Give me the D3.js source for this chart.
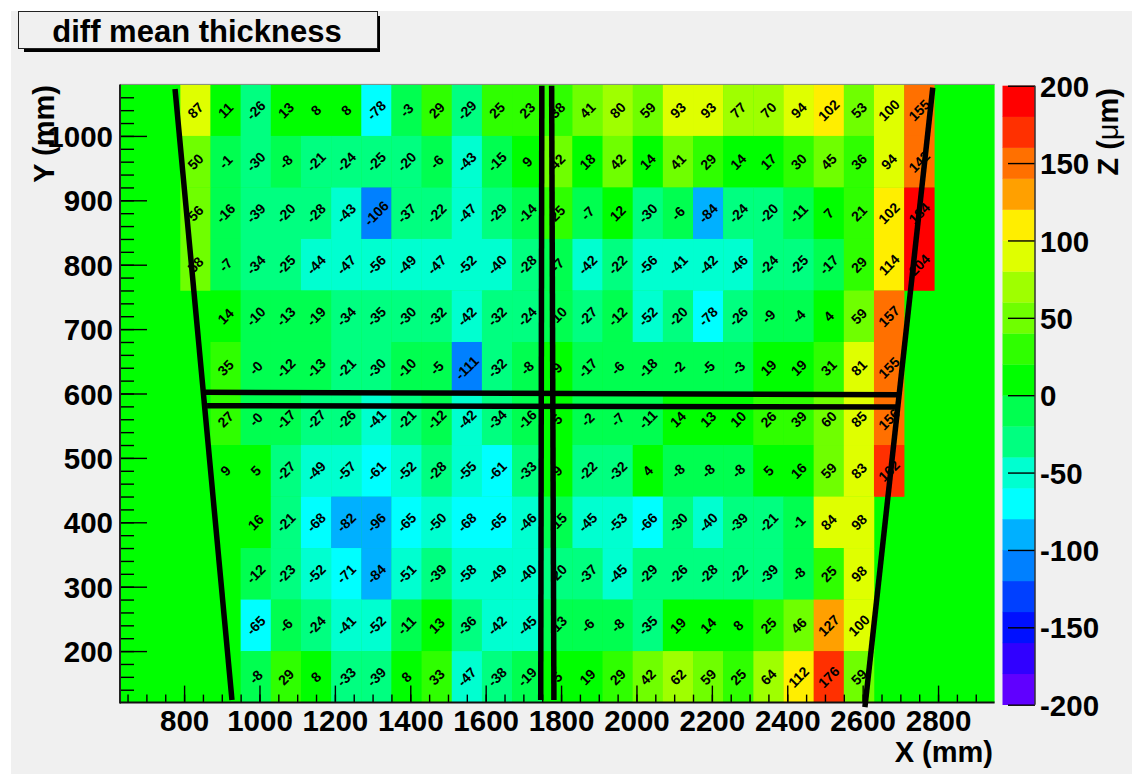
<!DOCTYPE html>
<html>
<head>
<meta charset="utf-8">
<script src="https://cdn.jsdelivr.net/npm/d3@7"></script>
<style>
  html, body { margin: 0; padding: 0; background: #fff; }
  svg { display: block; }
  text { font-family: "Liberation Sans", Arial, sans-serif; font-weight: bold; fill: #000; }
  .axis .domain { display: none; }
  .axis line { stroke: #000; }
</style>
</head>
<body>
<div id="chart"></div>
<script>
// histogram binning, mm
var binX0 = 630, binY0 = 120, binSize = 80, nBinsX = 29;

// cell values from the top row (y 1000-1080) down, starting in x bin 2; null = empty bin
var row1 = [87, 11, -26, 13, 8, 8, -78, -3, 29, -29, 25, 23, 38, 41, 79.6, 59, 93, 93, 77, 70, 94, 102, 53, 99.8, 155];
var row2 = [50, -1, -30, -8, -21, -24, -25, -20.3, -6, -43, -15, 9, 42, 18, 42, 14, 41, 29, 14, 17, 30, 45, 36, 94, 142];
var row3 = [56, -16, -39, -20.3, -28, -43, -106, -37, -22, -47, -29, -14, 25, -7, 12, -30, -6, -84, -24, -20.3, -11, 7, 21, 102, 184];
var row4 = [58, -7, -34, -25, -44, -47, -56, -49, -47, -52, -40.3, -28, -7, -42, -22, -56, -41, -42, -46, -24, -25, -17, 29, 114, 204];
var row5 = [null, 14, -10, -13, -19, -34, -35, -30, -32, -42, -32, -24, -10, -27, -12, -52, -20.3, -78, -26, -9, -4, 4, 59, 157, null];
var row6 = [null, 35, -0.4, -12, -13, -21, -30, -10, -5, -111, -32, -8, 9, -17, -6, -18, -2, -5, -3, 19, 19, 31, 81, 155, null];
var row7 = [null, 27, -0.4, -17, -27, -26, -41, -21, -12, -42, -34, -16, 5, -2, -7, -11, 14, 13, 10, 26, 39, 59.8, 85, 156, null];
var row8 = [null, 9, 5, -27, -49, -57, -61, -52, -28, -55, -61, -33, 9, -22, -32, 4, -8, -8, -8, 5, 16, 59, 83, 162, null];
var row9 = [null, null, 16, -21, -68, -82, -96, -65, -50, -68, -65, -46, -15, -45, -53, -66, -30, -40.3, -39, -21, -1, 84, 98, null, null];
var row10 = [null, null, -12, -23, -52, -71, -84, -51, -39, -58, -49, -40.3, -20.3, -37, -45, -29, -26, -28, -22, -39, -8, 25, 98, null, null];
var row11 = [null, null, -65, -6, -24, -41, -52, -11, 13, -36, -42, -45, -13, -6, -8, -35, 19, 14, 8, 25, 46, 127, 99.8, null, null];
var row12 = [null, null, -8, 29, 8, -33, -39, 8, 33, -47, -38, -19, 5, 19, 29, 42, 62, 59, 25, 64, 112, 176, 59, null, null];
var rows = [row1, row2, row3, row4, row5, row6, row7, row8, row9, row10, row11, row12];
var firstBinX = 2;

// contour palette, lowest band first
var palette = ["#6000ff", "#3000ff", "#0010ff", "#0040ff", "#0080ff", "#00b0ff", "#00ffff", "#00ffd0", "#00ff80", "#00ff50",
  "#00ff00", "#2fff00", "#6fff00", "#9fff00", "#dfff00", "#ffee00", "#ffa000", "#ff7000", "#ff3000", "#ff0000"];
var zLevels = d3.range(-180, 200, 20);

// axis ticks
var xMajor = [800, 1000, 1200, 1400, 1600, 1800, 2000, 2200, 2400, 2600, 2800];
var xMinor = d3.range(650, 2950, 50);
var yMajor = [200, 300, 400, 500, 600, 700, 800, 900, 1000];
var yMinor = d3.range(140, 1080, 20);
var zTicks = [-200, -150, -100, -50, 0, 50, 100, 150, 200];

// the black outline drawn over the map, mm
var overlay = [
  [[776, 1073], [927, 124]],
  [[2786, 1075], [2606, 113]],
  [[1749, 1078], [1746, 124]],
  [[1775, 1078], [1781, 124]],
  [[856, 602], [2694, 598]],
  [[861, 581], [2694, 579]]
];

var svgWidth = 1132, svgHeight = 774;
var tickFont = 29.5;

var svg = d3.select("#chart").append("svg")
  .attr("width", svgWidth)
  .attr("height", svgHeight);

// grey pad
svg.append("rect")
  .attr("x", 11).attr("y", 11)
  .attr("width", svgWidth - 11).attr("height", svgHeight - 11)
  .attr("fill", "#f0f0f0");

var x = d3.scaleLinear().domain([binX0, binX0 + nBinsX * binSize]).range([120, 994.6]);
var y = d3.scaleLinear().domain([binY0, binY0 + rows.length * binSize]).range([702.6, 84.4]);
var z = d3.scaleLinear().domain([-200, 200]).range([704.7, 85.7]);
var color = d3.scaleThreshold().domain(zLevels).range(palette);

// frame background is the colour of the empty bins
svg.append("rect")
  .attr("x", x.range()[0]).attr("y", y.range()[1])
  .attr("width", x.range()[1] - x.range()[0])
  .attr("height", y.range()[0] - y.range()[1])
  .attr("fill", color(0));

// flatten rows to cells
var cells = [];
rows.forEach(function(row, r) {
  row.forEach(function(v, i) {
    if (v !== null) {
      cells.push({
        x0: binX0 + (firstBinX + i) * binSize,
        y0: binY0 + (rows.length - 1 - r) * binSize,
        value: v
      });
    }
  });
});

svg.append("g").selectAll("rect")
  .data(cells)
  .enter()
  .append("rect")
  .attr("x", d => x(d.x0))
  .attr("y", d => y(d.y0 + binSize))
  .attr("width", d => x(d.x0 + binSize) - x(d.x0) + 0.3)
  .attr("height", d => y(d.y0) - y(d.y0 + binSize) + 0.3)
  .attr("fill", d => color(d.value));

// rounded labels, negative values keep their sign even at -0
svg.append("g").selectAll("text")
  .data(cells)
  .enter()
  .append("text")
  .attr("transform", d => `translate(${x(d.x0 + binSize / 2)}, ${y(d.y0 + binSize / 2)}) rotate(-45)`)
  .attr("text-anchor", "middle")
  .attr("dy", "0.36em")
  .attr("font-size", 14)
  .text(d => (d.value < 0 ? "-" : "") + Math.abs(Math.round(d.value)));

// axes, ticks point into the frame
var bottom = y.range()[0], left = x.range()[0];

svg.append("g").attr("class", "axis")
  .attr("transform", `translate(0, ${bottom})`)
  .call(d3.axisBottom(x).tickValues(xMinor).tickSize(-8).tickFormat(""));

var xAxis = svg.append("g").attr("class", "axis")
  .attr("transform", `translate(0, ${bottom})`)
  .call(d3.axisBottom(x).tickValues(xMajor).tickSize(-17).tickPadding(7).tickFormat(String));
xAxis.selectAll("text").attr("font-size", tickFont);

svg.append("g").attr("class", "axis")
  .attr("transform", `translate(${left}, 0)`)
  .call(d3.axisLeft(y).tickValues(yMinor).tickSize(-14).tickFormat(""));

var yAxis = svg.append("g").attr("class", "axis")
  .attr("transform", `translate(${left}, 0)`)
  .call(d3.axisLeft(y).tickValues(yMajor).tickSize(-27).tickPadding(7).tickFormat(String));
yAxis.selectAll("text").attr("font-size", tickFont).attr("dy", "0.36em");

svg.selectAll(".axis line").attr("stroke-width", 1.4);

// frame lines
svg.append("line").attr("x1", left).attr("x2", x.range()[1]).attr("y1", y.range()[1]).attr("y2", y.range()[1])
  .attr("stroke", "#888").attr("stroke-width", 1);
svg.append("line").attr("x1", left).attr("x2", left).attr("y1", y.range()[1]).attr("y2", bottom + 1)
  .attr("stroke", "#222").attr("stroke-width", 2);
svg.append("line").attr("x1", left).attr("x2", x.range()[1]).attr("y1", bottom).attr("y2", bottom)
  .attr("stroke", "#111").attr("stroke-width", 2);

// colour bar
var barX0 = 1002.5, barX1 = 1035;
var bands = palette.map(function(c, i) { return { lo: -200 + i * 20, hi: -180 + i * 20, c: c }; });
svg.append("g").selectAll("rect")
  .data(bands)
  .enter()
  .append("rect")
  .attr("x", barX0)
  .attr("width", barX1 - barX0)
  .attr("y", d => z(d.hi))
  .attr("height", d => z(d.lo) - z(d.hi) + 0.3)
  .attr("fill", d => d.c);

var zAxis = svg.append("g").attr("class", "axis")
  .attr("transform", `translate(${barX1}, 0)`)
  .call(d3.axisRight(z).tickValues(zTicks).tickSize(-27).tickPadding(5).tickFormat(String));
zAxis.selectAll("text").attr("font-size", tickFont).attr("dy", "0.36em");
zAxis.selectAll("line").attr("stroke-width", 1.4);
svg.append("line").attr("x1", barX1).attr("x2", barX1).attr("y1", z(200)).attr("y2", z(-200))
  .attr("stroke", "#333").attr("stroke-width", 1.5);

// black outline
var outline = d3.line().x(d => x(d[0])).y(d => y(d[1]));
svg.append("g").selectAll("path")
  .data(overlay)
  .enter()
  .append("path")
  .attr("d", outline)
  .attr("fill", "none")
  .attr("stroke", "#000")
  .attr("stroke-width", 5.5);

// axis titles
svg.append("text")
  .attr("x", 993).attr("y", 761.5)
  .attr("text-anchor", "end")
  .attr("font-size", 29)
  .text("X (mm)");

svg.append("text")
  .attr("transform", "translate(54, 85) rotate(-90)")
  .attr("text-anchor", "end")
  .attr("font-size", 29)
  .text("Y (mm)");

var zTitle = svg.append("text")
  .attr("transform", "translate(1118, 88) rotate(-90)")
  .attr("text-anchor", "end")
  .attr("font-size", 29);
zTitle.append("tspan").text("Z (");
zTitle.append("tspan").attr("font-weight", "normal").style("font-weight", "normal").text("\u03bc");
zTitle.append("tspan").text("m)");

// title box with drop shadow
svg.append("rect")
  .attr("x", 24).attr("y", 16)
  .attr("width", 356).attr("height", 36)
  .attr("fill", "#000");
svg.append("rect")
  .attr("x", 18.5).attr("y", 11.5)
  .attr("width", 359).attr("height", 37)
  .attr("fill", "#f0f0f0")
  .attr("stroke", "#222")
  .attr("stroke-width", 1);
svg.append("text")
  .attr("x", 197).attr("y", 41.5)
  .attr("text-anchor", "middle")
  .attr("font-size", 31)
  .text("diff mean thickness");
</script>
</body>
</html>
